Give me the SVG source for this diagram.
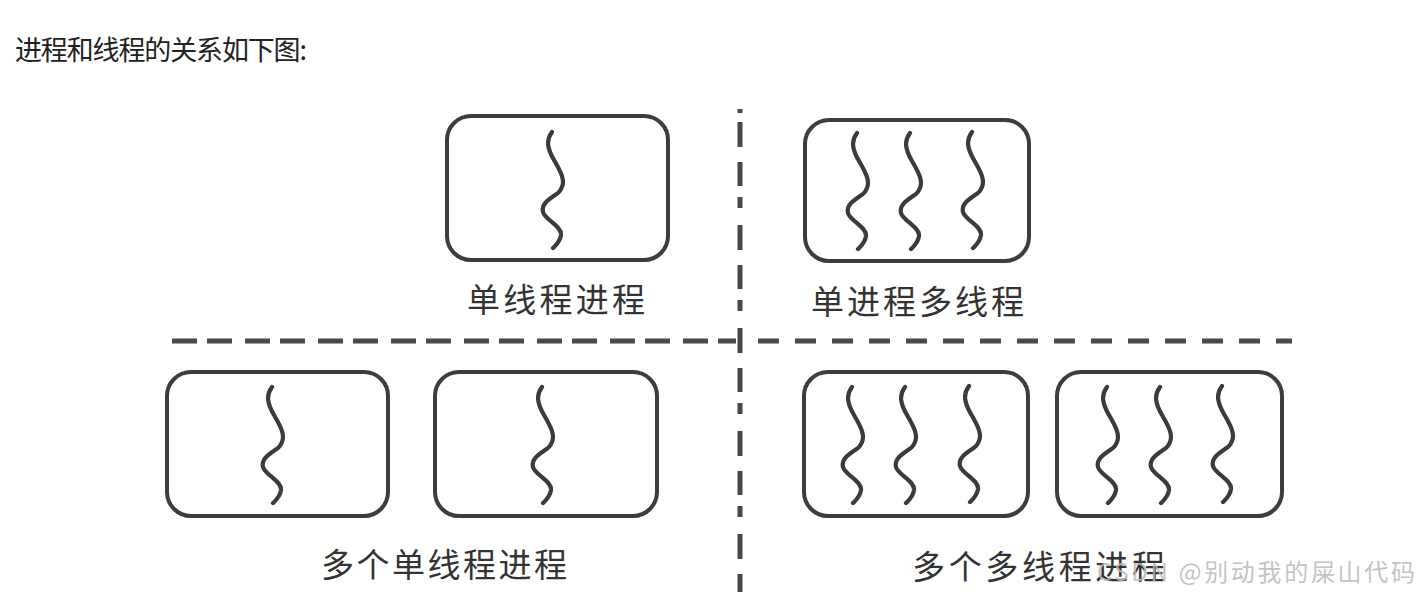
<svg xmlns="http://www.w3.org/2000/svg" xmlns:xlink="http://www.w3.org/1999/xlink" width="1420" height="602" viewBox="0 0 1420 602">
<style>
.box{fill:none;stroke:#3d3d3d;stroke-width:4;filter:url(#soft)}
.wave{fill:none;stroke:#3a3a3a;stroke-width:4.2;stroke-linecap:round;stroke-linejoin:round;filter:url(#soft)}
.lbl{font-family:"Noto Sans CJK SC","Noto Sans",sans-serif;font-size:33px;fill:#333}
.title{font-family:"Noto Sans CJK SC","Noto Sans",sans-serif;font-size:27px;fill:#222}
.wm{font-family:"Noto Sans CJK SC","Noto Sans",sans-serif;font-size:24px;fill:#b8b8b8;fill-opacity:0.85}
.sep{fill:none;stroke:#484848;stroke-width:5;filter:url(#softU)}
</style>
<defs>
<filter id="soft" x="-10%" y="-10%" width="120%" height="120%">
<feGaussianBlur stdDeviation="0.7"/>
</filter>
<filter id="softU" filterUnits="userSpaceOnUse" x="0" y="0" width="1420" height="602">
<feGaussianBlur stdDeviation="0.7"/>
</filter>
<path id="w" d="M0,0 C-6,8 -5,16 2,28 C9,40 13,48 10,55 C8,60 5,62 3,63 C-3,67 -11,72 -9,80 C-7,88 10,94 9,103 C8,110 4,113 1,116"/>
</defs>
<rect width="1420" height="602" fill="#fff"/>
<text class="title" x="15" y="60" textLength="292" lengthAdjust="spacing">进程和线程的关系如下图:</text>

<g id="connectors">
<line class="sep" x1="740" y1="109" x2="740" y2="113"/>
<line class="sep" x1="740" y1="122" x2="740" y2="592" stroke-dasharray="25 15 24 11 11 17"/>
<line class="sep" x1="172" y1="341" x2="736" y2="341" stroke-dasharray="25 10 25 13"/>
<line class="sep" x1="758" y1="341" x2="1292" y2="341" stroke-dasharray="21 16"/>
</g>

<g id="single-thread-process">
<rect class="box" x="447" y="116" width="221" height="144" rx="24"/>
<use class="wave" href="#w" x="552" y="132"/>
<text class="lbl" x="467" y="312" textLength="178" lengthAdjust="spacing">单线程进程</text>
</g>

<g id="single-process-multi-thread">
<rect class="box" x="805" y="120" width="224" height="141" rx="24"/>
<use class="wave" href="#w" x="857" y="133"/>
<use class="wave" href="#w" x="910" y="133"/>
<use class="wave" href="#w" x="972" y="132"/>
<text class="lbl" x="811" y="314" textLength="213" lengthAdjust="spacing">单进程多线程</text>
</g>

<g id="multi-single-thread-process">
<rect class="box" x="167" y="372" width="221" height="144" rx="24"/>
<use class="wave" href="#w" x="272" y="387"/>
<rect class="box" x="435" y="372" width="222" height="144" rx="24"/>
<use class="wave" href="#w" x="542" y="387"/>
<text class="lbl" x="321" y="577" textLength="246" lengthAdjust="spacing">多个单线程进程</text>
</g>

<g id="multi-multi-thread-process">
<rect class="box" x="804" y="372" width="224" height="144" rx="24"/>
<use class="wave" href="#w" x="852" y="387"/>
<use class="wave" href="#w" x="905" y="387"/>
<use class="wave" href="#w" x="969" y="386"/>
<rect class="box" x="1057" y="372" width="225" height="144" rx="24"/>
<use class="wave" href="#w" x="1107" y="387"/>
<use class="wave" href="#w" x="1160" y="387"/>
<use class="wave" href="#w" x="1222" y="386"/>
<text class="lbl" x="912" y="579" textLength="253" lengthAdjust="spacing">多个多线程进程</text>
</g>

<text class="wm" x="1097" y="581" textLength="318" lengthAdjust="spacing">CSDN @别动我的屎山代码</text>
</svg>
